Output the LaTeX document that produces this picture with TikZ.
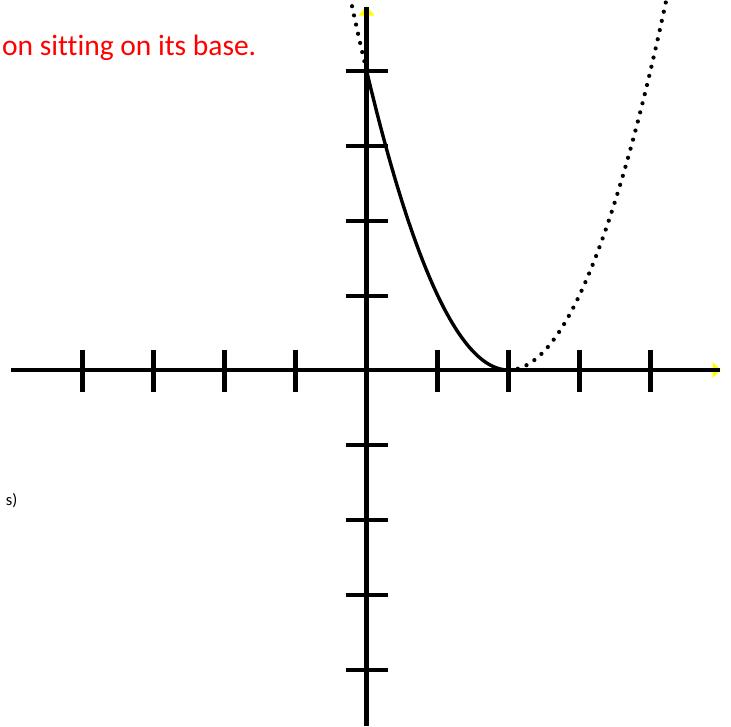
\documentclass[tikz,border=0pt]{standalone}
\usepackage{fontspec}
\setmainfont{Carlito}[Ligatures={NoCommon,NoRare}]
\begin{document}
\begin{tikzpicture}[x=1pt,y=-1pt,
  axisline/.style={line width=4.3pt},
  tickline/.style={line width=4.3pt},
  curveline/.style={line width=3.4pt},
  dotline/.style={line width=4.2pt, line cap=round, dash pattern=on 0pt off 9.4pt},
  tipfill/.style={fill={rgb,255:red,255;green,255;blue,0}}]
\useasboundingbox (0,0) rectangle (731,726);
\clip (0,0) rectangle (731,726);
% arrow tips (yellow)
\fill[tipfill] (366.5,6) -- (374.5,15.5) -- (358.5,15.5) -- cycle;
\fill[tipfill] (721,370) -- (712.5,362) -- (712.5,378) -- cycle;
% axes
\draw[axisline] (11,370) -- (720,370);
\draw[axisline] (366.5,7) -- (366.5,726);
% ticks on x axis
\foreach \t in {82.5,153.5,224.5,295.5,437.5,508.5,579.5,650.5}
  \draw[tickline] (\t,349.5) -- (\t,391.5);
% ticks on y axis
\foreach \t in {71,146,221,296,445,520,595,670}
  \draw[tickline] (345.5,\t) -- (387.5,\t);
% solid part of the parabola
\draw[curveline] plot[domain=0:2, samples=80, smooth] ({366.5+71*\x},{370-74.9*(\x-2)^2});
% dotted continuations
\draw[dotline] plot[domain=2:4.3, samples=80, smooth] ({366.5+71*\x},{370-74.9*(\x-2)^2});
\draw[dotline] plot[domain=0:-0.3, samples=30, smooth] ({366.5+71*\x},{370-74.9*(\x-2)^2});
% texts
\node[anchor=base west, inner sep=0pt, text={rgb,255:red,255;green,0;blue,0}, font=\fontsize{29.5}{35}\selectfont] (title) at (2,55) {on sitting on its base.};
\node[anchor=base east, inner sep=0pt, font=\fontsize{16.5}{19}\selectfont] (unit) at (17.5,505) {s)};
\end{tikzpicture}
\end{document}
